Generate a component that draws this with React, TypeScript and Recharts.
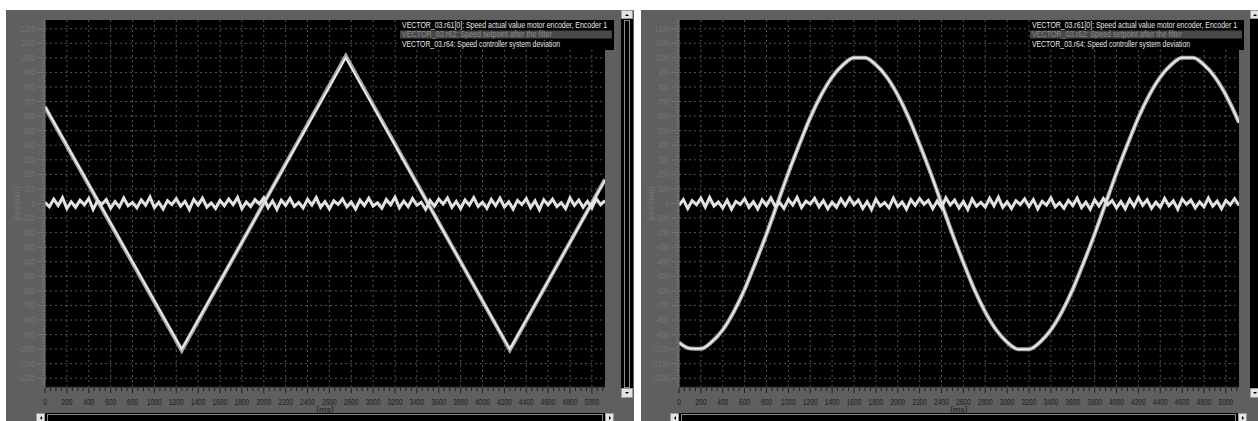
import React from 'react';
import { LineChart, Line, XAxis, YAxis, CartesianGrid, Legend } from 'recharts';

const seriesNames = [
  'VECTOR_03.r61[0]: Speed actual value motor encoder, Encoder 1',
  'VECTOR_03.r62: Speed setpoint after the filter',
  'VECTOR_03.r64: Speed controller system deviation',
];

// left trace: triangle, corners (ms, rev/min)
const leftTimes = [0, 1250, 2750, 4250, 5120];
const leftSetpoint = [667, -1000, 1000, -1000, 160];
const leftActual = [662, -1008, 1012, -1006, 165];

// right trace: sine, read every 100 ms
const rightTimes = [
  0, 100, 200, 300, 400, 500, 600, 700, 800, 900, 1000, 1100, 1200, 1300, 1400, 1500, 1600, 1700,
  1800, 1900, 2000, 2100, 2200, 2300, 2400, 2500, 2600, 2700, 2800, 2900, 3000, 3100, 3200, 3300,
  3400, 3500, 3600, 3700, 3800, 3900, 4000, 4100, 4200, 4300, 4400, 4500, 4600, 4700, 4800, 4900,
  5000, 5100, 5120,
];
const rightSetpoint = [
  -955, -995, -997, -950, -868, -745, -590, -405, -210, 0, 210, 405, 590, 745, 868, 952, 1000, 1000,
  952, 868, 745, 590, 405, 210, 0, -210, -405, -590, -745, -868, -952, -1000, -1000, -952,
  -868, -745, -590, -405, -210, 0, 210, 405, 590, 745, 868, 952, 1000, 1000, 952, 868,
  745, 590, 555,
];

// deviation noise, one sample every 40 ms
const deviationStepMs = 40;
const leftDeviation = [
  8, -22, 31, -14, 40, -35, 12, -27, 22, -9, 35, -41, 18, -5, 27, -33, 14, -24, 38, -16,
  6, -30, 25, -12, 44, -28, 9, -38, 20, -7, 33, -19, 15, -42, 28, -11, 37, -25, 4, -34,
  21, -15, 30, -8, 42, -36, 11, -21, 26, -3, 39, -29, 17, -40, 23, -13, 34, -20, 7, -31,
  29, -10, 41, -26, 13, -37, 19, -6, 32, -23, 10, -39, 24, -14, 36, -17, 5, -32, 27, -9,
  43, -30, 16, -22, 35, -12, 8, -41, 22, -18, 31, -4, 38, -27, 14, -35, 25, -11, 40, -20,
  9, -33, 28, -15, 37, -24, 12, -38, 21, -7, 34, -29, 18, -43, 26, -10, 30, -21, 6, -36,
  39, -13, 23, -26, 15, -31, 33, -8, 20,
];
const rightDeviation = [
  -12, 27, -35, 19, -8, 36, -24, 41, -17, 10, -31, 22, -40, 15, -6, 33, -27, 12, -38, 25,
  -14, 39, -21, 7, -33, 28, -11, 42, -29, 16, -4, 35, -23, 20, -37, 9, -26, 31, -15, 38,
  -9, 24, -34, 13, -42, 29, -18, 6, -30, 37, -22, 11, -39, 26, -13, 34, -5, 21, -36, 17,
  -28, 40, -10, 23, -32, 14, -41, 30, -19, 8, -25, 36, -16, 43, -27, 12, -35, 19, -7, 32,
  -21, 27, -38, 15, -11, 39, -24, 5, -33, 22, -14, 37, -29, 10, -40, 26, -17, 34, -8, 20,
  -31, 13, -37, 28, -20, 41, -12, 25, -34, 9, -26, 35, -15, 18, -39, 30, -6, 24, -30, 11,
  -23, 38, -18, 16, -36, 21, -9, 33, -13,
];

const xMajorTicks = [
  0, 200, 400, 600, 800, 1000, 1200, 1400, 1600, 1800, 2000, 2200, 2400, 2600, 2800, 3000, 3200,
  3400, 3600, 3800, 4000, 4200, 4400, 4600, 4800, 5000,
];
const yMajorTicks = [
  -1200, -1100, -1000, -900, -800, -700, -600, -500, -400, -300, -200, -100, 0, 100, 200, 300, 400,
  500, 600, 700, 800, 900, 1000, 1100, 1200,
];
const xMinorTicks = Array.from({ length: 103 }, (_, i) => i * 50);
const yMinorTicks = Array.from({ length: 126 }, (_, i) => -1240 + i * 20);

const toPoints = (ts: number[], vs: number[]) => ts.map((t, i) => ({ t, v: vs[i] }));
const toNoise = (vs: number[]) => vs.map((v, i) => ({ t: i * deviationStepMs, v }));

const FONT = '"Liberation Sans", Arial, sans-serif';
const PANEL = '#5f5f5f';

const XTick = (props: any) => {
  const { x, y, payload } = props;
  const v = payload.value as number;
  const major = v % 200 === 0;
  const label = String(v);
  return (
    <g>
      <line x1={x} x2={x} y1={y + 1} y2={y + (major ? 6 : 4)} stroke="#1e1e1e" />
      {major && (
        <text x={x} y={y + 18} textAnchor="middle" fontSize={9} fill="#1e1e1e" fontFamily={FONT}
          textLength={label.length * 3.7} lengthAdjust="spacingAndGlyphs">{label}</text>
      )}
    </g>
  );
};

const YTick = (props: any) => {
  const { x, y, payload } = props;
  const v = payload.value as number;
  const major = v % 100 === 0;
  const label = String(v);
  return (
    <g>
      <line x1={x - (major ? 8 : 3)} x2={x} y1={y} y2={y} stroke="#737373" />
      {major && (
        <text x={x - 10} y={y + 3} textAnchor="end" fontSize={9} fill="#767676" fontFamily={FONT}
          textLength={label.replace('-', '').length * 3.6 + (v < 0 ? 2.5 : 0)} lengthAdjust="spacingAndGlyphs">{label}</text>
      )}
    </g>
  );
};

const legendWidths = [205, 150, 158];

const TraceLegend = () => (
  <svg width={216} height={30} style={{ display: 'block', overflow: 'visible' }}>
    <rect x={0} y={0} width={214} height={30} fill="#000" />
    <rect x={0} y={10.5} width={212} height={8} fill="#484848" />
    {seriesNames.map((name, i) => (
      <text key={name} x={2} y={7.5 + i * 9.7} fontSize={9} fontFamily={FONT}
        fill={i === 1 ? '#8c8c8c' : '#e8e8e8'} textLength={legendWidths[i]} lengthAdjust="spacingAndGlyphs">
        {name}
      </text>
    ))}
  </svg>
);

const yTitle = ({ viewBox }: any) => (
  <text transform={`translate(${viewBox.x + 11}, ${viewBox.y + viewBox.height / 2}) rotate(-90)`}
    textAnchor="middle" dominantBaseline="central" fontSize={9} fill="#737373" fontFamily={FONT}>
    [rev/min]
  </text>
);

const xTitle = ({ viewBox }: any) => (
  <text x={viewBox.x + viewBox.width / 2} y={viewBox.y + 23} textAnchor="middle" dominantBaseline="central"
    fontSize={9} fill="#1e1e1e" fontFamily={FONT}>
    [ms]
  </text>
);

type PanelProps = {
  width: number;
  setpoint: { t: number; v: number }[];
  actual: { t: number; v: number }[];
  deviation: { t: number; v: number }[];
  curve: 'linear' | 'monotone';
};

function TracePanel({ width, setpoint, actual, deviation, curve }: PanelProps) {
  return (
    <LineChart width={width} height={411} margin={{ top: 10, right: width - 39 - 560, bottom: 8, left: 0 }}>
      <CartesianGrid fill="#000" fillOpacity={1} stroke="#555" strokeDasharray="2 3"
        horizontalValues={yMajorTicks} verticalValues={xMajorTicks} />
      <XAxis type="number" dataKey="t" domain={[0, 5120]} ticks={xMinorTicks} interval={0}
        allowDataOverflow height={26} tickSize={0} tickMargin={0} tickLine={false}
        axisLine={{ stroke: '#1e1e1e' }} tick={<XTick />} label={xTitle} />
      <YAxis type="number" dataKey="v" domain={[-1260, 1260]} ticks={yMinorTicks} interval={0}
        allowDataOverflow width={39} tickSize={0} tickMargin={0} tickLine={false}
        axisLine={{ stroke: '#737373' }} tick={<YTick />} label={yTitle} />
      <Legend layout="vertical" align="center" verticalAlign="middle" content={<TraceLegend />}
        wrapperStyle={{ left: width - 220, top: 10, width: 216, height: 30 }} />
      <Line data={actual} dataKey="v" type={curve} stroke="#a8a8a8" strokeWidth={4} dot={false}
        isAnimationActive={false} name={seriesNames[0]} />
      <Line data={setpoint} dataKey="v" type={curve} stroke="#f2f2f2" strokeWidth={1.5} dot={false}
        isAnimationActive={false} name={seriesNames[1]} />
      <Line data={deviation} dataKey="v" type="linear" stroke="#e2e2e2" strokeWidth={3} dot={false}
        isAnimationActive={false} name={seriesNames[2]} />
    </LineChart>
  );
}

const Arrow = ({ dir }: { dir: 'up' | 'down' | 'left' | 'right' }) => {
  const s: React.CSSProperties = { width: 0, height: 0, position: 'absolute', left: '50%', top: '50%', transform: 'translate(-50%,-50%)' };
  const side = '2px solid transparent';
  if (dir === 'up') Object.assign(s, { borderLeft: side, borderRight: side, borderBottom: '2px solid #000' });
  if (dir === 'down') Object.assign(s, { borderLeft: side, borderRight: side, borderTop: '2px solid #000' });
  if (dir === 'left') Object.assign(s, { borderTop: side, borderBottom: side, borderRight: '2px solid #000' });
  if (dir === 'right') Object.assign(s, { borderTop: side, borderBottom: side, borderLeft: '2px solid #000' });
  return <span style={s} />;
};

const Btn = ({ left, top, w, h, dir }: any) => (
  <div style={{ position: 'absolute', left, top, width: w, height: h, background: '#e4e4e4', boxSizing: 'border-box', border: '1px solid #9a9a9a' }}>
    <Arrow dir={dir} />
  </div>
);

const abs = (left: number, top: number, width: number, height: number, extra: React.CSSProperties = {}): React.CSSProperties =>
  ({ position: 'absolute', left, top, width, height, ...extra });

export default function App() {
  return (
    <div style={abs(0, 0, 1258, 421, { background: '#fff', overflow: 'hidden' })}>
      {/* left panel */}
      <div style={abs(6, 10, 628, 411, { background: PANEL })} />
      <div style={abs(6, 10, 614, 411)}>
        <TracePanel width={614} setpoint={toPoints(leftTimes, leftSetpoint)} actual={toPoints(leftTimes, leftActual)}
          deviation={toNoise(leftDeviation)} curve="linear" />
      </div>
      <div style={abs(621, 10, 12, 388, { background: '#000' })}>
        <div style={abs(3, 10, 4, 366, { border: '1px solid #8a8a8a' })} />
      </div>
      <Btn left={621} top={10} w={12} h={9} dir="up" />
      <Btn left={621} top={388} w={12} h={10} dir="down" />
      <div style={abs(45, 413, 560, 8, { background: '#000' })}>
        <div style={abs(2, 1, 554, 7, { borderLeft: '1px solid #8a8a8a', borderRight: '1px solid #8a8a8a', borderTop: '1px solid #8a8a8a' })} />
      </div>
      <Btn left={36} top={413} w={9} h={9} dir="left" />
      <Btn left={605} top={413} w={9} h={9} dir="right" />

      {/* right panel */}
      <div style={abs(641, 10, 617, 411, { background: PANEL })} />
      <div style={abs(640, 10, 610, 411)}>
        <TracePanel width={610} setpoint={toPoints(rightTimes, rightSetpoint)} actual={toPoints(rightTimes, rightSetpoint)}
          deviation={toNoise(rightDeviation)} curve="monotone" />
      </div>
      <div style={abs(1250, 10, 8, 388, { background: '#000' })} />
      <Btn left={1250} top={10} w={10} h={9} dir="up" />
      <Btn left={1250} top={388} w={10} h={10} dir="down" />
      <div style={abs(679, 413, 559, 8, { background: '#000' })}>
        <div style={abs(2, 1, 553, 7, { borderLeft: '1px solid #8a8a8a', borderRight: '1px solid #8a8a8a', borderTop: '1px solid #8a8a8a' })} />
      </div>
      <Btn left={670} top={413} w={9} h={9} dir="left" />
      <Btn left={1238} top={413} w={9} h={9} dir="right" />
    </div>
  );
}
